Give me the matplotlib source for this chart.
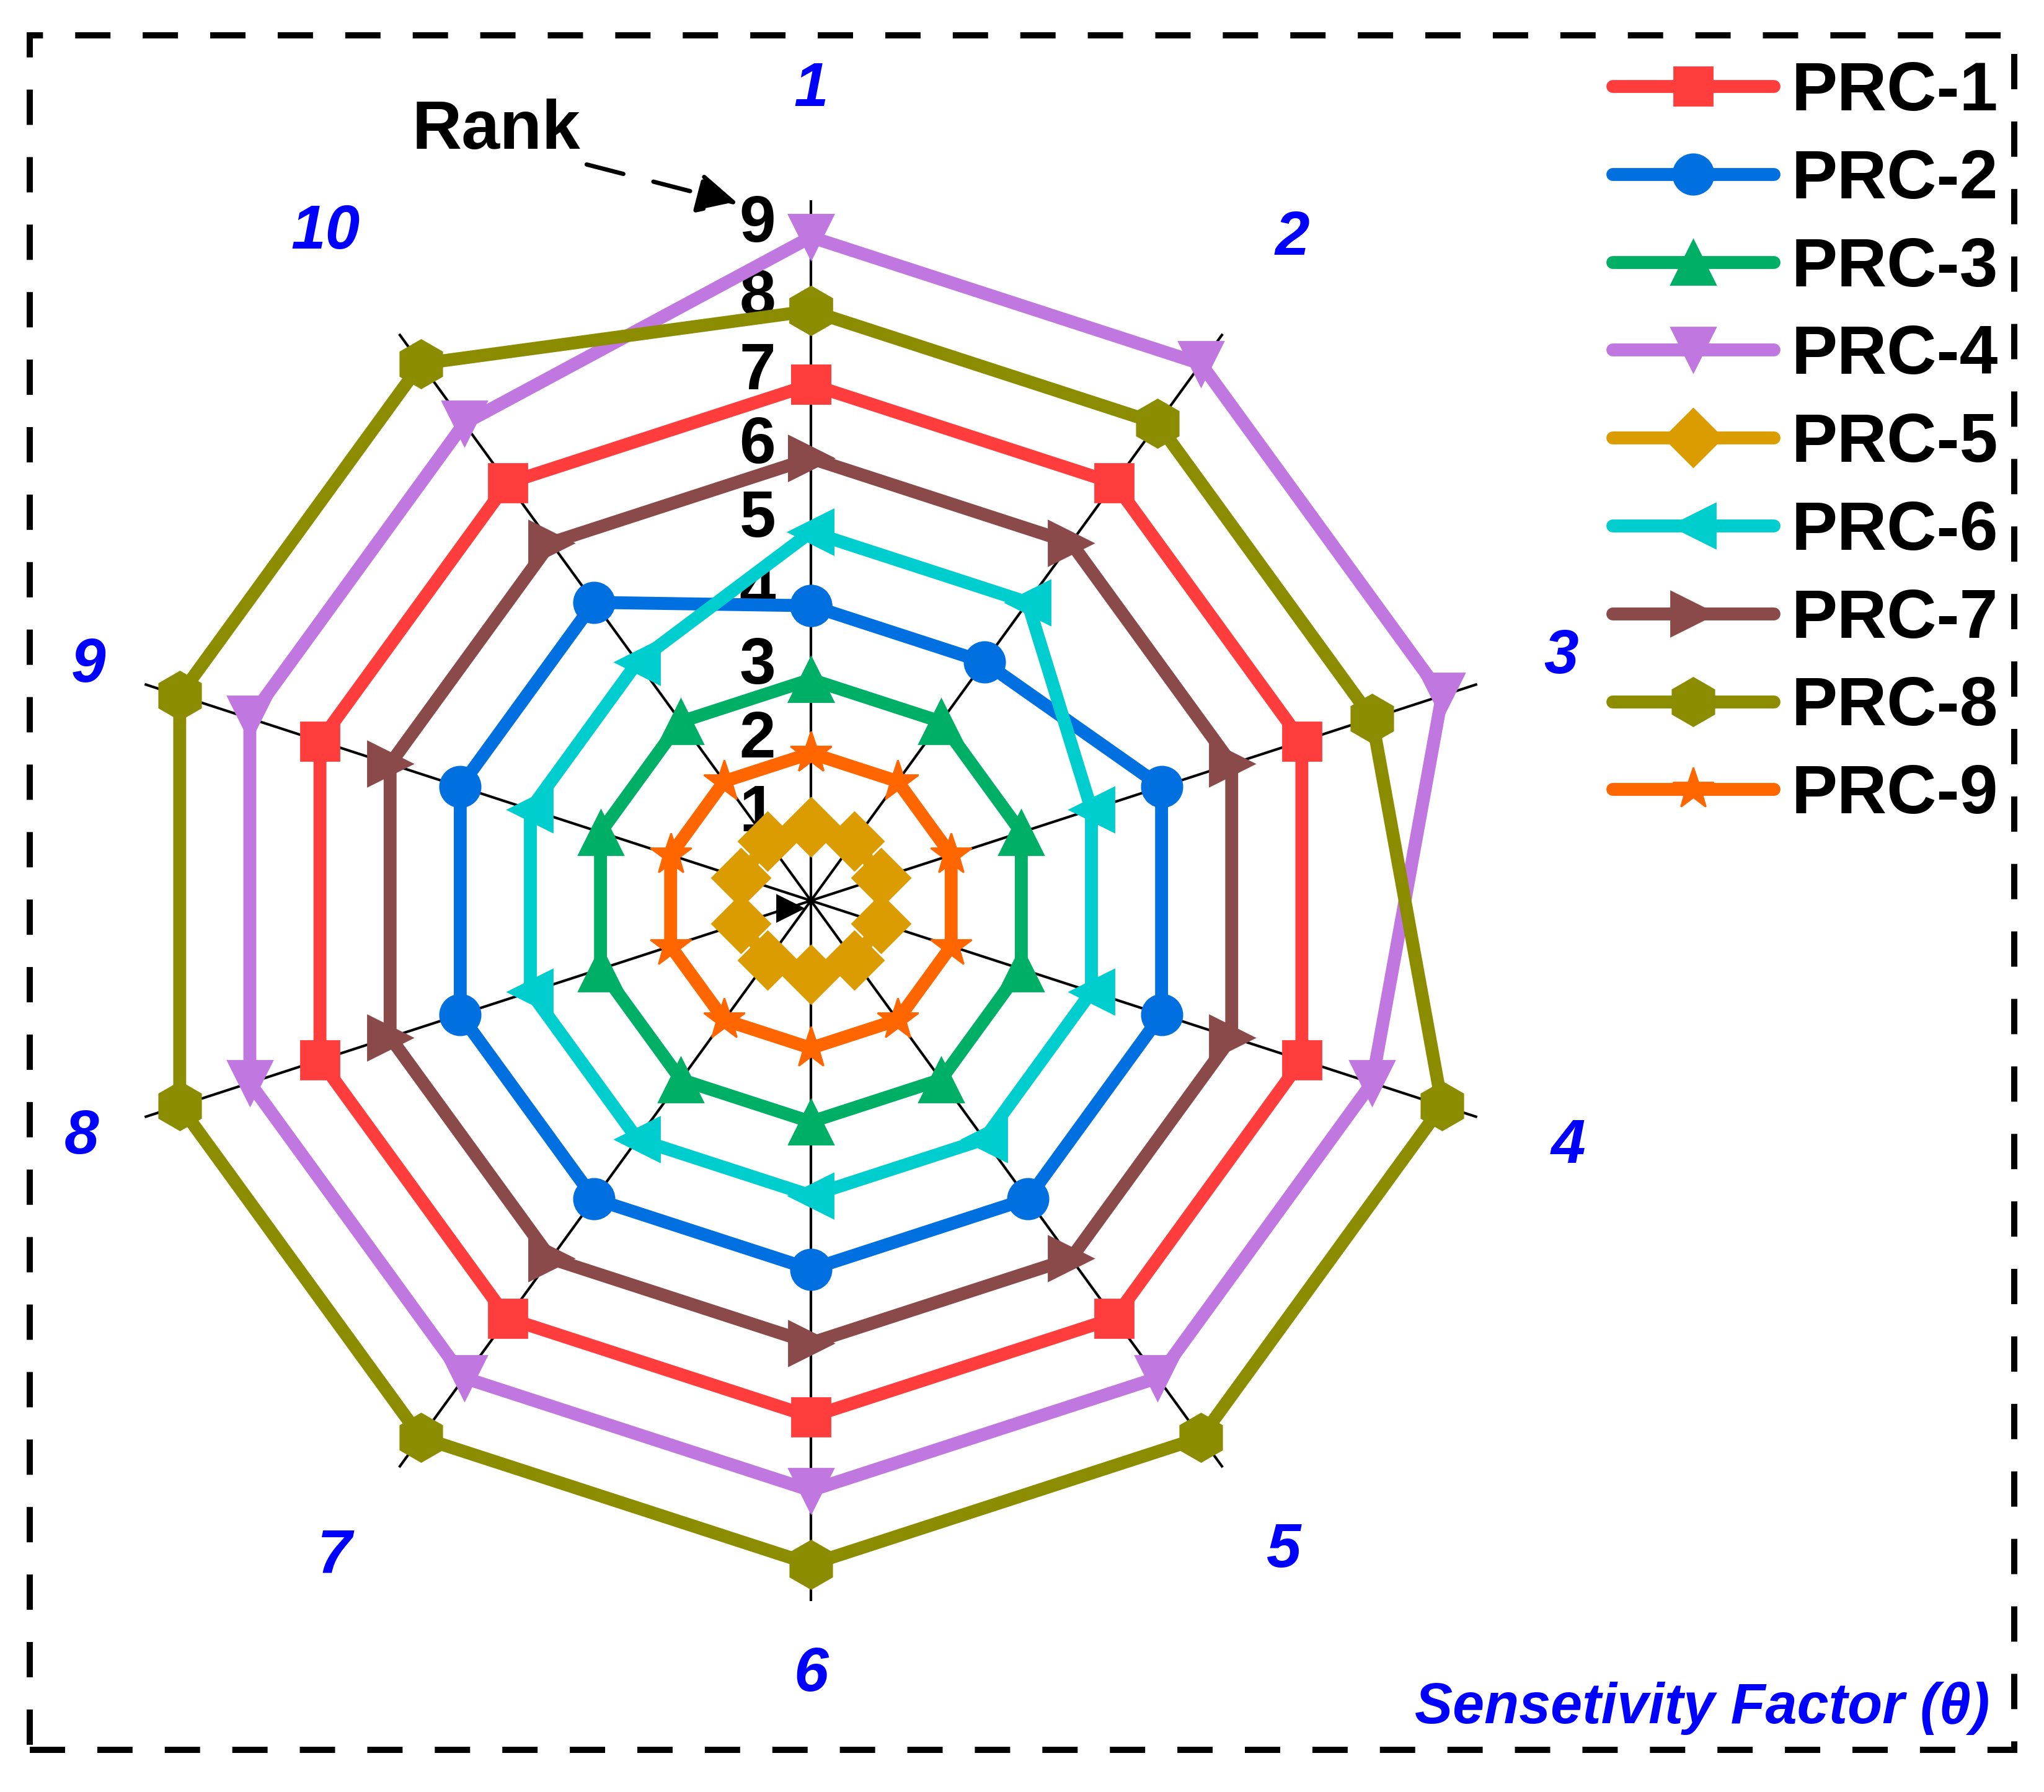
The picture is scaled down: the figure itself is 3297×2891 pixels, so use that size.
import numpy as np
import matplotlib.pyplot as plt
from matplotlib import transforms
from matplotlib.patches import Rectangle

plt.rcParams['font.family'] = ['Liberation Sans', 'DejaVu Sans']
plt.rcParams['font.weight'] = 'bold'
plt.rcParams['lines.scale_dashes'] = False

# sensitivity factors (spokes) and rank ticks
factors = ['1', '2', '3', '4', '5', '6', '7', '8', '9', '10']
rank_ticks = [1, 2, 3, 4, 5, 6, 7, 8, 9]

# rank of each PRC on every factor
prc1 = [7, 7, 7, 7, 7, 7, 7, 7, 7, 7]
prc2 = [4, 4, 5, 5, 5, 5, 5, 5, 5, 5]
prc3 = [3, 3, 3, 3, 3, 3, 3, 3, 3, 3]
prc4 = [9, 9, 9, 8, 8, 8, 8, 8, 8, 8]
prc5 = [1, 1, 1, 1, 1, 1, 1, 1, 1, 1]
prc6 = [5, 5, 4, 4, 4, 4, 4, 4, 4, 4]
prc7 = [6, 6, 6, 6, 6, 6, 6, 6, 6, 6]
prc8 = [8, 8, 8, 9, 9, 9, 9, 9, 9, 9]
prc9 = [2, 2, 2, 2, 2, 2, 2, 2, 2, 2]

names = ['PRC-1', 'PRC-2', 'PRC-3', 'PRC-4', 'PRC-5',
         'PRC-6', 'PRC-7', 'PRC-8', 'PRC-9']
series = [prc1, prc2, prc3, prc4, prc5, prc6, prc7, prc8, prc9]

colors = ['#FF3D3D', '#006FE0', '#00AF66', '#C078E0', '#DA9C00',
          '#00CDCD', '#8B4A4A', '#8C8C00', '#FF6600']
markers = ['s', 'o', '^', 'v', 'D', '<', '>', 'h', '*']
msizes = [22.5, 23.5, 26, 26, 24, 26, 26, 28, 25]

# where the factor labels sit (radius, in rank units)
label_r = [11.0, 11.1, 10.7, 10.8, 10.9, 10.5, 11.0, 10.4, 10.3, 11.2]

fig = plt.figure(figsize=(16.49, 14.455), dpi=200)
ax = fig.add_axes([0.05397, 0.10654, 0.68527, 0.78174], projection='polar')
ax.set_theta_zero_location('N')
ax.set_theta_direction(-1)

angles = np.linspace(0, 2 * np.pi, len(factors), endpoint=False)

handles = []
for vals, name, c, m, ms in zip(series, names, colors, markers, msizes):
    th = np.append(angles, angles[0])
    r = np.append(vals, vals[0])
    h, = ax.plot(th, r, color=c, lw=7.5, marker=m, markersize=ms,
                 markerfacecolor=c, markeredgecolor=c, markeredgewidth=1,
                 solid_capstyle='round', label=name, zorder=3, clip_on=False)
    handles.append(h)

ax.set_ylim(0, 9.5)
ax.set_yticks([])
ax.set_xticks(angles)
ax.set_xticklabels([])
ax.xaxis.grid(True, color='black', lw=1.5)
ax.spines['polar'].set_visible(False)

# rank tick labels along the first spoke
tick_tr = transforms.offset_copy(ax.transData, fig=fig, x=-31, y=0, units='points')
for t in rank_ticks:
    ax.text(0, t + 0.17, str(t), transform=tick_tr, ha='center', va='center',
            fontsize=38, fontweight='bold', color='black', zorder=1)

# small origin arrow at the centre
ax.plot([np.deg2rad(250)], [0.3], marker='>', markersize=15, color='black',
        zorder=2.5)

# factor labels
for a, lab, lr in zip(angles, factors, label_r):
    ax.text(a, lr, lab, ha='center', va='center', fontsize=36,
            fontweight='bold', fontstyle='italic', color='#0000FF',
            clip_on=False)

# "Rank" annotation
fig.text(0.2426, 0.927, 'Rank', ha='center', va='center', fontsize=40,
         fontweight='bold')
ax.annotate('', xy=(0.3625, 0.8860), xytext=(0.2853, 0.9087),
            xycoords='figure fraction', textcoords='figure fraction',
            arrowprops=dict(arrowstyle='-|>,head_length=0.4,head_width=0.2',
                            mutation_scale=50, lw=2.5, color='black',
                            linestyle=(0, (22, 18))))

fig.legend(handles, names, loc='upper left',
           bbox_to_anchor=(2601 / 3298, 1 - 97 / 2891),
           frameon=False, fontsize=40, borderpad=0, borderaxespad=0,
           handlelength=2.34, handletextpad=0.26, labelspacing=0.34,
           numpoints=1)

fig.text(0.9731, 0.0467, 'Sensetivity Factor (θ)', ha='right', va='center',
         fontsize=33, fontweight='bold', fontstyle='italic', color='#0000FF')

# dashed frame around the whole figure
fig.patches.append(Rectangle((0.01455, 0.0236), 0.9705, 0.9567,
                             transform=fig.transFigure, fill=False,
                             edgecolor='black', lw=3.6,
                             linestyle=(0, (20.5, 18.7))))

fig.savefig('out.png', dpi=200)
